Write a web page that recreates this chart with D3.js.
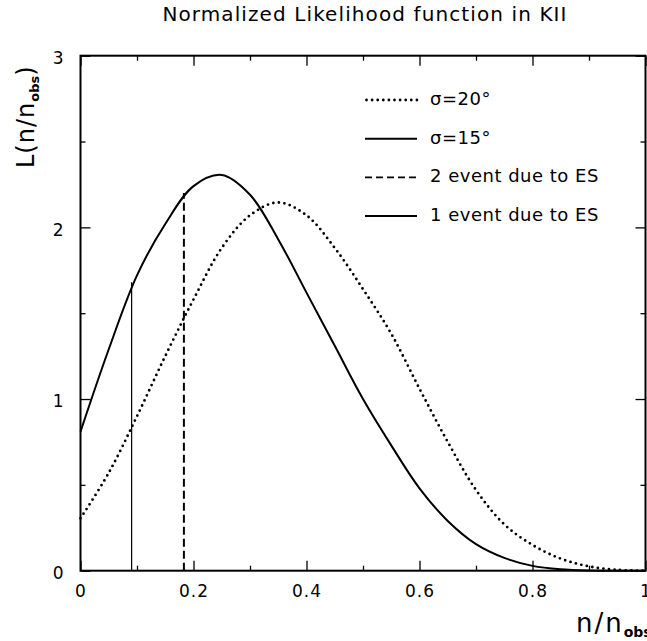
<!DOCTYPE html>
<html>
<head>
<meta charset="utf-8">
<script src="https://cdn.jsdelivr.net/npm/d3@7"></script>
<style>
body { margin: 0; background: #fff; }
text { font-family: "DejaVu Sans", sans-serif; fill: #000; }
</style>
</head>
<body>
<script>
var width = 647;
var height = 641;

// sigma = 20 deg curve (dotted)
var xs20 = [0, 0.05, 0.1, 0.15, 0.2, 0.25, 0.3, 0.35, 0.4, 0.45, 0.5, 0.55, 0.6, 0.65, 0.7, 0.75, 0.8, 0.85, 0.9, 0.95, 1.0];
var ys20 = [0.305, 0.57, 0.90, 1.25, 1.58, 1.88, 2.07, 2.145, 2.07, 1.88, 1.64, 1.38, 1.06, 0.75, 0.47, 0.27, 0.15, 0.07, 0.025, 0.005, 0];

// sigma = 15 deg curve (solid)
var xs15 = [0, 0.05, 0.1, 0.15, 0.2, 0.25, 0.3, 0.35, 0.4, 0.45, 0.5, 0.55, 0.6, 0.65, 0.7, 0.75, 0.8, 0.85, 0.9, 0.95, 1.0];
var ys15 = [0.81, 1.29, 1.72, 2.02, 2.24, 2.305, 2.19, 1.93, 1.62, 1.31, 1.00, 0.73, 0.48, 0.29, 0.155, 0.075, 0.028, 0.008, 0.001, 0, 0];

// event cuts: 1 event and 2 events due to ES
var cutX = [0.0905, 0.183];
var cutY = [1.68, 2.20];

var xTicks = [0, 0.2, 0.4, 0.6, 0.8, 1];
var xMinor = [0.1, 0.3, 0.5, 0.7, 0.9];
var yTicks = [0, 1, 2, 3];
var yMinor = [0.5, 1.5, 2.5];

var legendLabels = ["\u03c3=20\u00b0", "\u03c3=15\u00b0", "2 event due to ES", "1 event due to ES"];

var svg = d3.select("body")
    .append("svg")
    .attr("width", width)
    .attr("height", height)

var padding = { left: 80.5, right: 1.5, top: 55.7, bottom: 70.3 }

var xScale = d3.scaleLinear()
    .domain([0, 1])
    .range([padding.left, width - padding.right])
var yScale = d3.scaleLinear()
    .domain([0, 3])
    .range([height - padding.bottom, padding.top])

var x0 = xScale(0), x1 = xScale(1), y0 = yScale(0), y1 = yScale(3)

// title
svg.append("text")
    .attr("x", (x0 + x1) / 2 + 2)
    .attr("y", 21)
    .attr("text-anchor", "middle")
    .style("font-size", "20px")
    .style("letter-spacing", "1.1px")
    .text("Normalized Likelihood function in KII")

// inward ticks on all four sides
function tickGroup(axis, tr) {
    var g = svg.append("g")
        .attr("transform", tr)
        .call(axis)
    g.select(".domain").remove()
    g.selectAll("line").attr("stroke", "#000").attr("stroke-width", 1.3)
    g.selectAll("text")
        .style("font-size", "17px")
        .style("letter-spacing", "1px")
        .attr("font-family", null)
    return g
}

tickGroup(d3.axisBottom(xScale).tickValues(xTicks).tickSize(-10).tickPadding(14)
    .tickFormat(d3.format("")), "translate(0," + y0 + ")")
tickGroup(d3.axisBottom(xScale).tickValues(xMinor).tickSize(-5).tickFormat(""), "translate(0," + y0 + ")")
tickGroup(d3.axisTop(xScale).tickValues(xTicks).tickSize(-10).tickFormat(""), "translate(0," + y1 + ")")
tickGroup(d3.axisTop(xScale).tickValues(xMinor).tickSize(-5).tickFormat(""), "translate(0," + y1 + ")")

var yl = tickGroup(d3.axisLeft(yScale).tickValues(yTicks).tickSize(-10).tickPadding(16)
    .tickFormat(d3.format("d")), "translate(" + x0 + ",0)")
yl.selectAll("text").attr("dy", "0.45em")
tickGroup(d3.axisLeft(yScale).tickValues(yMinor).tickSize(-5).tickFormat(""), "translate(" + x0 + ",0)")
tickGroup(d3.axisRight(yScale).tickValues(yTicks).tickSize(-10).tickFormat(""), "translate(" + x1 + ",0)")
tickGroup(d3.axisRight(yScale).tickValues(yMinor).tickSize(-5).tickFormat(""), "translate(" + x1 + ",0)")

// frame
svg.append("rect")
    .attr("x", x0)
    .attr("y", y1)
    .attr("width", x1 - x0)
    .attr("height", y0 - y1)
    .attr("fill", "none")
    .attr("stroke", "#000")
    .attr("stroke-width", 2)

var line = d3.line()
    .x(function (d) { return xScale(d[0]) })
    .y(function (d) { return yScale(Math.max(0, d[1])) })
    .curve(d3.curveCatmullRom.alpha(0.5))

svg.append("path")
    .datum(d3.zip(xs20, ys20))
    .attr("d", line)
    .attr("fill", "none")
    .attr("stroke", "#000")
    .attr("stroke-width", 2.8)
    .attr("stroke-linecap", "round")
    .attr("stroke-dasharray", "0 5.6")

svg.append("path")
    .datum(d3.zip(xs15, ys15))
    .attr("d", line)
    .attr("fill", "none")
    .attr("stroke", "#000")
    .attr("stroke-width", 2)

// vertical cut lines
svg.selectAll(".cut")
    .data(d3.zip(cutX, cutY))
    .enter()
    .append("line")
    .attr("class", "cut")
    .attr("x1", function (d) { return xScale(d[0]) })
    .attr("x2", function (d) { return xScale(d[0]) })
    .attr("y1", yScale(0))
    .attr("y2", function (d) { return yScale(d[1]) })
    .attr("stroke", "#000")
    .attr("stroke-width", function (d, i) { return i == 0 ? 1.2 : 2 })
    .attr("stroke-dasharray", function (d, i) { return i == 0 ? null : "8 4" })

// legend
var legendStyle = [
    { w: 2.8, dash: "0 5.6", cap: "round" },
    { w: 2, dash: null, cap: "butt" },
    { w: 1.6, dash: "7 4", cap: "butt" },
    { w: 2, dash: null, cap: "butt" }
]
var legend = svg.selectAll(".legend")
    .data(legendLabels)
    .enter()
    .append("g")
    .attr("class", "legend")
    .attr("transform", function (d, i) { return "translate(365," + (100 + i * 38.7) + ")" })

legend.append("line")
    .attr("x1", function (d, i) { return i == 0 ? 1.5 : 0 })
    .attr("x2", 52)
    .attr("stroke", "#000")
    .attr("stroke-width", function (d, i) { return legendStyle[i].w })
    .attr("stroke-dasharray", function (d, i) { return legendStyle[i].dash })
    .attr("stroke-linecap", function (d, i) { return legendStyle[i].cap })

legend.append("text")
    .attr("x", 65)
    .attr("y", 5)
    .style("font-size", "18px")
    .style("letter-spacing", "0.5px")
    .text(function (d) { return d })

// axis titles
var yt = svg.append("text")
    .attr("transform", "translate(34,168) rotate(-90)")
    .style("font-size", "24px")
    .style("letter-spacing", "1px")
yt.append("tspan").text("L(n/n")
yt.append("tspan").attr("dy", 5).style("font-size", "13px").style("font-weight", "bold").style("letter-spacing", "0px").text("obs")
yt.append("tspan").attr("dy", -5).text(")")

var xt = svg.append("text")
    .attr("x", 576)
    .attr("y", 632)
    .style("font-size", "26px")
    .style("letter-spacing", "2px")
xt.append("tspan").text("n/n")
xt.append("tspan").attr("dy", 5).style("font-size", "14px").style("font-weight", "bold").style("letter-spacing", "0px").text("obs")
</script>
</body>
</html>
